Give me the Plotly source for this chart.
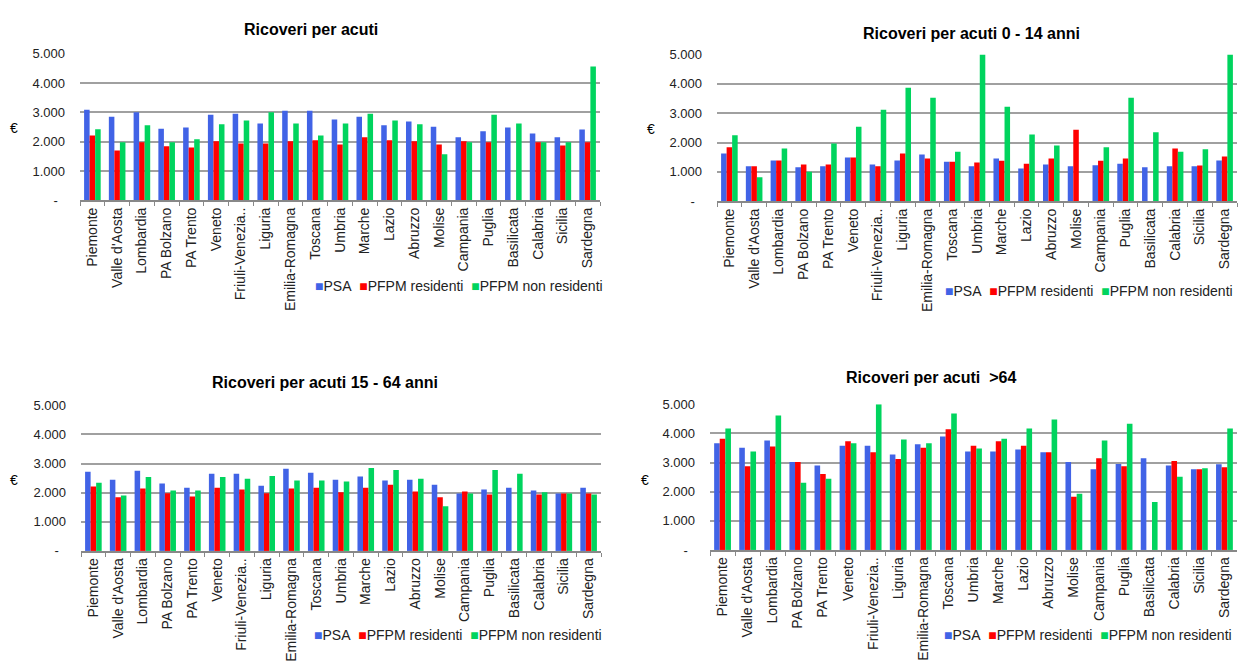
import plotly.graph_objects as go

regions = ["Piemonte", "Valle d'Aosta", "Lombardia", "PA Bolzano", "PA Trento", "Veneto",
           "Friuli-Venezia..", "Liguria", "Emilia-Romagna", "Toscana", "Umbria", "Marche",
           "Lazio", "Abruzzo", "Molise", "Campania", "Puglia", "Basilicata", "Calabria",
           "Sicilia", "Sardegna"]

series_names = ["PSA", "PFPM residenti", "PFPM non residenti"]

# Ricoveri per acuti (totale)
tot_psa = [3090, 2850, 3000, 2440, 2480, 2920, 2950, 2620, 3050, 3050, 2750, 2850, 2560, 2690, 2510, 2150, 2350, 2480, 2280, 2150, 2410]
tot_res = [2210, 1700, 1980, 1840, 1800, 2010, 1940, 1940, 2010, 2050, 1900, 2150, 2050, 2010, 1900, 2010, 1980, None, 1980, 1870, 1980]
tot_nres = [2420, 1980, 2560, 1980, 2080, 2590, 2720, 3000, 2620, 2210, 2620, 2950, 2720, 2590, 1570, 1980, 2920, 2620, 1980, 1980, 4560]

# 0 - 14 anni
a014_psa = [1630, 1190, 1390, 1160, 1190, 1490, 1250, 1390, 1590, 1350, 1190, 1460, 1120, 1250, 1190, 1230, 1280, 1160, 1190, 1190, 1390]
a014_res = [1840, 1190, 1390, 1250, 1250, 1490, 1190, 1630, 1460, 1350, 1320, 1380, 1280, 1460, 2440, 1380, 1460, None, 1800, 1220, 1530]
a014_nres = [2250, 820, 1800, 1010, 1970, 2540, 3120, 3870, 3530, 1690, 5000, 3220, 2280, 1900, None, 1840, 3530, 2350, 1690, 1770, 5000]

# 15 - 64 anni
a1564_psa = [2720, 2440, 2750, 2310, 2170, 2650, 2650, 2240, 2820, 2680, 2440, 2550, 2420, 2440, 2270, 1970, 2110, 2170, 2070, 1970, 2170]
a1564_res = [2210, 1840, 2140, 1980, 1870, 2170, 2110, 1980, 2140, 2170, 2010, 2170, 2270, 2040, 1840, 2040, 1940, None, 1940, 1970, 1970]
a1564_nres = [2340, 1900, 2540, 2070, 2070, 2540, 2480, 2570, 2420, 2420, 2380, 2850, 2780, 2480, 1530, 1970, 2780, 2650, 2010, 1970, 1940]

# > 64 anni
a64_psa = [3660, 3510, 3760, 3020, 2900, 3580, 3580, 3280, 3630, 3890, 3380, 3380, 3450, 3350, 3020, 2770, 2950, 3150, 2900, 2770, 2940]
a64_res = [3820, 2870, 3550, 3020, 2610, 3730, 3350, 3120, 3510, 4140, 3580, 3730, 3580, 3350, 1830, 3150, 2870, None, 3050, 2770, 2840]
a64_nres = [4170, 3380, 4610, 2310, 2440, 3660, 5000, 3790, 3660, 4680, 3480, 3820, 4170, 4480, 1930, 3760, 4330, 1650, 2510, 2800, 4170]

titles = ["Ricoveri per acuti", "Ricoveri per acuti 0 - 14 anni",
          "Ricoveri per acuti 15 - 64 anni", "Ricoveri per acuti  >64"]
tick_vals = [0, 1000, 2000, 3000, 4000, 5000]
tick_text = ["-\u00a0\u00a0", "1.000", "2.000", "3.000", "4.000", "5.000"]

colors = ["#4163E6", "#FF0000", "#00D45E"]
panels = [
    (tot_psa, tot_res, tot_nres),
    (a014_psa, a014_res, a014_nres),
    (a1564_psa, a1564_res, a1564_nres),
    (a64_psa, a64_res, a64_nres),
]

W, H = 1240, 662
def px_x(x):
    return x / W
def px_y(y):
    return 1 - y / H

# plot area boxes in pixels: (left, right, top, bottom)
boxes = [(80, 600, 48, 199), (717, 1237, 49, 200), (81, 601, 410, 560), (710, 1237, 409, 559)]
title_pos = [(311, 23), (972, 27), (325, 387), (931, 381)]
euro_pos = [(14, 125), (651, 126), (14, 487), (645, 487)]
legend_x = [313, 943, 312, 942]
legend_y = [287, 292, 647, 647]

fig = go.Figure()
annotations = []
for i, (data, box) in enumerate(zip(panels, boxes)):
    sfx = "" if i == 0 else str(i + 1)
    for name, vals, col in zip(series_names, data, colors):
        fig.add_trace(go.Bar(
            x=regions, y=vals, name=name, marker=dict(color=col, line=dict(width=0)),
            xaxis="x" + sfx, yaxis="y" + sfx, showlegend=False,
        ))
    l, r, t, b = box
    fig.layout["xaxis" + sfx] = dict(
        domain=[px_x(l), px_x(r)], anchor="y" + sfx, type="category",
        tickangle=-90, tickfont=dict(family="Liberation Sans, Arial", size=14, color="#222"),
        showline=True, linecolor="#888", linewidth=1.5,
        ticks="outside", tickson="boundaries", ticklen=4, tickcolor="#888",
        showgrid=False,
    )
    fig.layout["yaxis" + sfx] = dict(
        domain=[px_y(b), px_y(t)], anchor="x" + sfx, range=[0, 5000],
        tickvals=tick_vals, ticktext=tick_text,
        tickfont=dict(family="Liberation Sans, Arial", size=13, color="#222"),
        showgrid=True, gridcolor="#a0a0a0", gridwidth=1.5, zeroline=False,
        showline=False, ticks="", ticklabelstandoff=14,
    )
    tx, ty = title_pos[i]
    annotations.append(dict(
        text="<b>" + titles[i] + "</b>", x=px_x(tx), y=px_y(ty), xref="paper", yref="paper",
        showarrow=False, xanchor="center", yanchor="middle",
        font=dict(family="Liberation Sans, Arial", size=16, color="#000"),
    ))
    ex, ey = euro_pos[i]
    annotations.append(dict(
        text="€", x=px_x(ex), y=px_y(ey), xref="paper", yref="paper",
        showarrow=False, xanchor="center", yanchor="middle",
        font=dict(family="Liberation Sans, Arial", size=14, color="#000"),
    ))
    leg = "".join(
        '<span style="color:%s">■</span>%s%s' % (c, n, "\u00a0\u00a0" if k < 2 else "")
        for k, (n, c) in enumerate(zip(series_names, colors))
    )
    annotations.append(dict(
        text=leg, x=px_x(legend_x[i]), y=px_y(legend_y[i]), xref="paper", yref="paper",
        showarrow=False, xanchor="left", yanchor="middle",
        font=dict(family="Liberation Sans, Arial", size=14, color="#222"),
    ))

fig.update_layout(
    width=W, height=H, margin=dict(l=0, r=0, t=0, b=0),
    paper_bgcolor="white", plot_bgcolor="white",
    barmode="group", bargap=0.33, bargroupgap=0,
    annotations=annotations,
)

fig.write_html(
    "out.html",
    config={"displayModeBar": False},
    post_script="document.body.style.margin='0';document.body.style.overflow='hidden';",
)
